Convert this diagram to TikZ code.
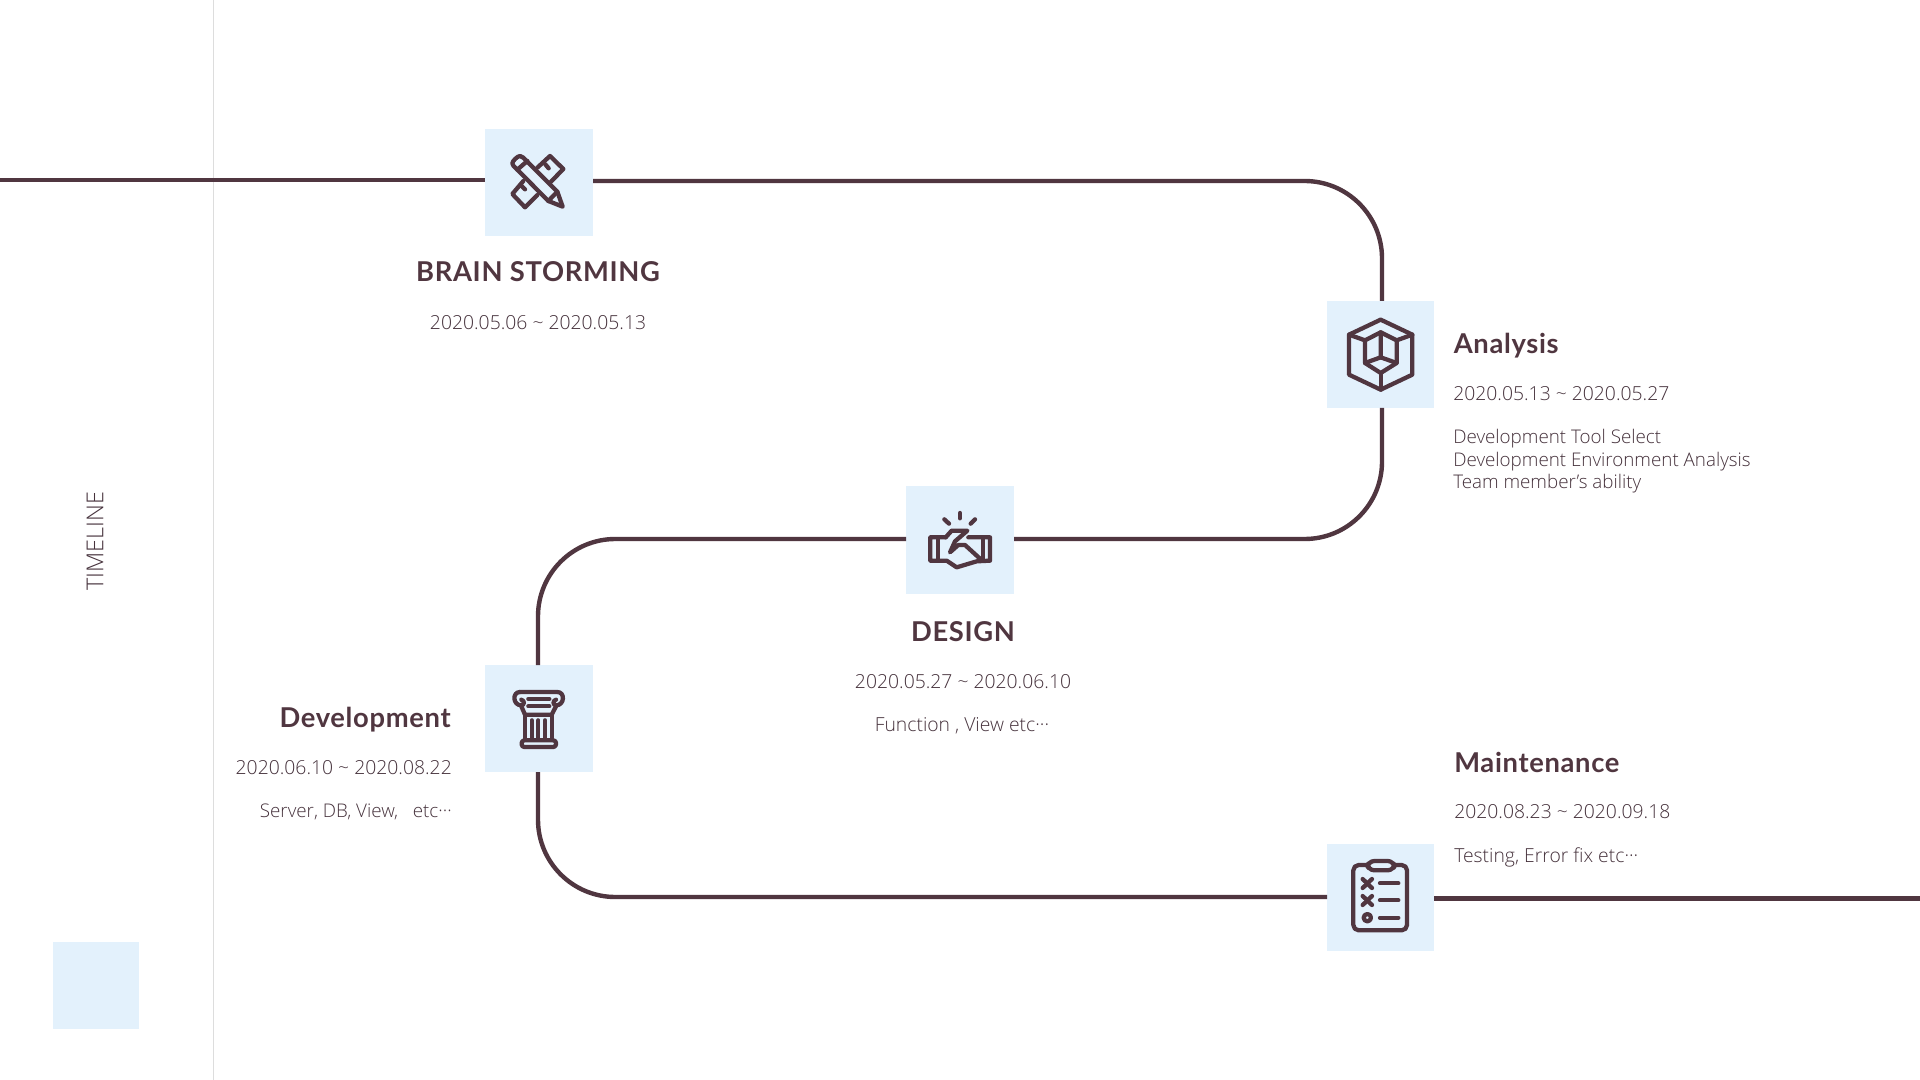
\documentclass[tikz,border=0pt]{standalone}
\usepackage{fontspec}
\setmainfont{Open Sans Light}
\newfontfamily\headfont[LetterSpace=2.5]{Lato}
\definecolor{ink}{HTML}{503640}
\definecolor{bodyink}{HTML}{46323C}
\definecolor{pale}{HTML}{E3F1FC}
\definecolor{rulegray}{HTML}{DDDDDD}
\tikzset{
  wire/.style={draw=ink,line width=3.3pt},
  tilebox/.style={fill=pale,draw=none,inner sep=0pt,minimum width=80.7pt,minimum height=80.5pt},
  glyph/.style={draw=ink,line width=3.2pt,line join=round,line cap=round},
  heading/.style={text=ink,inner sep=0pt,font=\headfont\bfseries\fontsize{20.5}{24}\selectfont},
  body/.style={text=bodyink,inner sep=0pt,font=\fontsize{14.5}{17}\selectfont},
  bodytight/.style={text=bodyink,inner sep=0pt,font=\fontsize{14.1}{17}\selectfont},
}
\begin{document}
\begin{tikzpicture}[x=0.75pt,y=-0.75pt]
\useasboundingbox (0,0) rectangle (1920,1080);
\fill[white] (0,0) rectangle (1920,1080);
\draw[rulegray,line width=0.9pt] (213.7,0) coordinate (ruleTop) -- (213.7,1080) coordinate (ruleBottom);
\node[fill=pale,inner sep=0pt,minimum width=64.5pt,minimum height=65pt] (swatch) at (96,985.5) {};

\node[tilebox] (brain) at (539,182.5) {};
\node[tilebox] (analysis) at (1380.3,354.5) {};
\node[tilebox] (design) at (960,540) {};
\node[tilebox] (devel) at (539,718.5) {};
\node[tilebox] (maint) at (1380.3,897.5) {};

\coordinate (leftEnd) at (0,180);
\coordinate (rightEnd) at (1920,898.3);
\coordinate (brainW) at (485,180);
\coordinate (brainE) at (593,181);
\coordinate (anaN) at (1382,301);
\coordinate (anaS) at (1382,408);
\coordinate (desE) at (1014,539);
\coordinate (desW) at (906,539);
\coordinate (devN) at (538,665);
\coordinate (devS) at (538,772);
\coordinate (maiW) at (1327,897);
\coordinate (maiE) at (1434,898.3);

\draw[wire] (leftEnd) -- (brainW);
\draw[wire,rounded corners=58pt] (brainE) -| (anaN);
\draw[wire,rounded corners=58pt] (anaS) |- (desE);
\draw[wire,rounded corners=58pt] (desW) -| (devN);
\draw[wire,rounded corners=58pt] (devS) |- (maiW);
\draw[wire] (maiE) -- (rightEnd);

% pencil and ruler
\begin{scope}[x=0.25pt,y=-0.25pt,shift={(1440,375)}]
\draw[glyph] (97,115) .. controls (97,108) and (113,93) .. (120,93) .. controls (124,93) and (127,95) .. (130,98) -- (232,200) -- (248,245) -- (205,228) -- (100,122) .. controls (98,120) and (97,118) .. (97,115) -- cycle;
\draw[glyph] (205,228) -- (232,200);
\draw[glyph] (112,134) -- (142,108);
\draw[glyph] (172,128) -- (210,93) -- (250,132) -- (213,170);
\draw[glyph] (130,168) -- (97,207) -- (135,247) -- (172,210);
\draw[glyph] (196,118) -- (206,130);
\draw[glyph] (124,182) -- (135,193);
\end{scope}

% cube
\begin{scope}[x=0.25pt,y=-0.25pt,shift={(3975,894)}]
\draw[glyph] (167,65) -- (262,110) -- (262,230) -- (167,275) -- (72,230) -- (72,110) -- cycle;
\draw[glyph] (120,127) -- (167,103) -- (215,127) -- (215,195) -- (167,225) -- (120,195) -- cycle;
\draw[glyph] (167,103) -- (167,178) -- (120,195);
\draw[glyph] (167,178) -- (215,195);
\draw[glyph] (72,110) -- (120,127);
\draw[glyph] (262,110) -- (215,127);
\draw[glyph] (167,225) -- (167,275);
\end{scope}

% handshake
\begin{scope}[x=0.25pt,y=-0.25pt,shift={(2715,1452)}]
\draw[glyph] (165,87) -- (165,103);
\draw[glyph] (118,106) -- (132,119);
\draw[glyph] (210,106) -- (197,119);
\draw[glyph] (122,160) -- (76,160) -- (76,230) -- (125,230) -- (155,250) -- (215,232) -- (255,230) -- (255,160) -- (190,160);
\draw[glyph] (98,160) -- (98,230);
\draw[glyph] (233,160) -- (233,230);
\draw[glyph] (122,160) -- (140,140) -- (187,140) -- (150,172) -- (135,205) -- (160,183) -- (180,183) -- (225,224);
\end{scope}

% column
\begin{scope}[x=0.25pt,y=-0.25pt,shift={(1440,1989)}]
\draw[glyph] (120,87) -- (232,87) .. controls (256,87) and (254,127) .. (228,127) .. controls (218,127) and (218,112) .. (228,110);
\draw[glyph] (120,87) .. controls (96,87) and (98,127) .. (124,127) .. controls (134,127) and (134,112) .. (124,110);
\draw[glyph] (145,108) -- (208,108);
\draw[glyph] (145,130) -- (208,130);
\draw[glyph] (124,130) -- (135,155) -- (215,155) -- (228,130);
\draw[glyph] (135,155) -- (135,230);
\draw[glyph] (215,155) -- (215,230);
\draw[glyph] (155,172) -- (155,225);
\draw[glyph] (175,172) -- (175,225);
\draw[glyph] (195,172) -- (195,225);
\draw[glyph,rounded corners=2pt] (125,232) rectangle (228,252);
\end{scope}

% clipboard
\begin{scope}[x=0.25pt,y=-0.25pt,shift={(3975,2523)}]
\draw[glyph,rounded corners=4pt] (85,72) rectangle (246,268);
\draw[glyph,fill=pale,rounded corners=5pt] (128,60) rectangle (208,88);
\draw[glyph] (113,114) -- (141,141);
\draw[glyph] (113,141) -- (141,114);
\draw[glyph] (113,165) -- (141,192);
\draw[glyph] (113,192) -- (141,165);
\draw[glyph] (127,230) circle (11);
\draw[glyph] (165,127) -- (220,127);
\draw[glyph] (165,178) -- (220,178);
\draw[glyph] (165,230) -- (220,230);
\end{scope}

\node[rotate=90,text=bodyink,inner sep=0pt,font=\fontsize{17.5}{20}\selectfont] (timeline) at (95,541) {TIMELINE};

\node[heading] (brainT) at (538,272) {BRAIN STORMING};
\node[body] (brainD) at (538,323) {2020.05.06 \textasciitilde{} 2020.05.13};

\node[heading,anchor=west] (anaT) at (1453.5,345.5) {Analysis};
\node[body,anchor=west] (anaD) at (1453,394) {2020.05.13 \textasciitilde{} 2020.05.27};
\node[bodytight,anchor=west] (anaL1) at (1453,439) {Development Tool Select};
\node[bodytight,anchor=west] (anaL2) at (1453,462) {Development Environment Analysis};
\node[bodytight,anchor=west] (anaL3) at (1453,484) {Team member's ability};

\node[heading] (desT) at (963,632) {DESIGN};
\node[body] (desD) at (963,682) {2020.05.27 \textasciitilde{} 2020.06.10};
\node[body] (desL) at (962,726) {Function , View etc···};

\node[heading,anchor=east] (devT) at (451,719.5) {Development};
\node[body,anchor=east] (devD) at (452,768) {2020.06.10 \textasciitilde{} 2020.08.22};
\node[bodytight,anchor=east] (devL) at (452,812) {Server, DB, View,\ \ \ etc···};

\node[heading,anchor=west] (maiT) at (1454,762) {Maintenance};
\node[body,anchor=west] (maiD) at (1454,812) {2020.08.23 \textasciitilde{} 2020.09.18};
\node[body,anchor=west] (maiL) at (1454,857) {Testing, Error fix etc···};
\end{tikzpicture}
\end{document}
